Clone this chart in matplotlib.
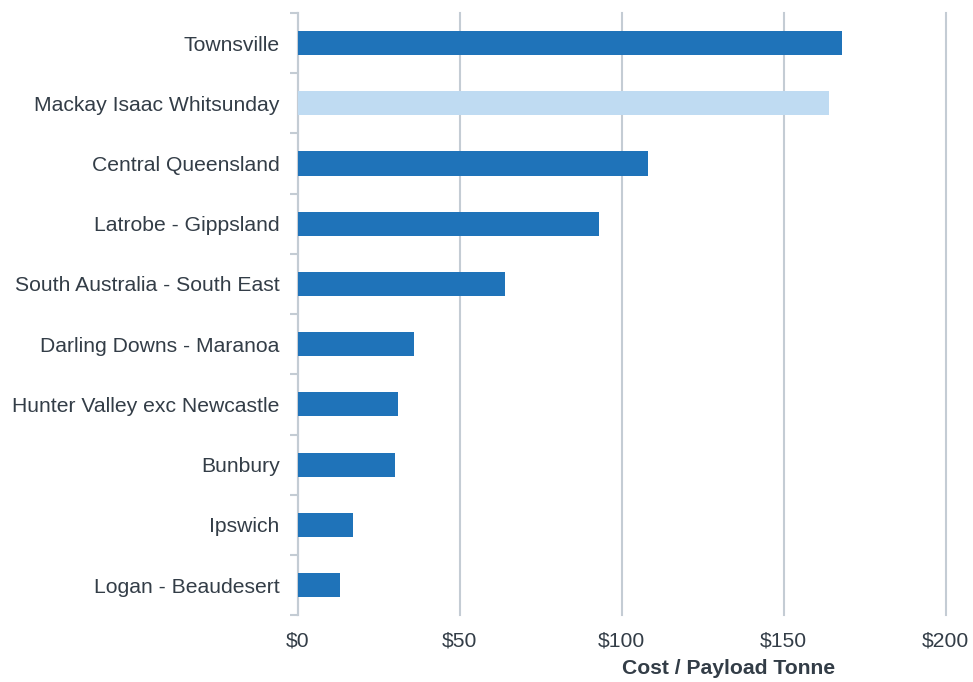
import numpy as np
import matplotlib.pyplot as plt
from matplotlib.ticker import FixedLocator

plt.rcParams['font.family'] = ['Liberation Sans', 'DejaVu Sans']

regions = ["Townsville", "Mackay Isaac Whitsunday", "Central Queensland",
           "Latrobe - Gippsland", "South Australia - South East",
           "Darling Downs - Maranoa", "Hunter Valley exc Newcastle",
           "Bunbury", "Ipswich", "Logan - Beaudesert"]
cost = [168, 164, 108, 93, 64, 36, 31, 30, 17, 13]
highlight = "Mackay Isaac Whitsunday"
xticks = [0, 50, 100, 150, 200]
xtick_labels = ["$0", "$50", "$100", "$150", "$200"]

dark = '#1f73b9'
light = '#bfdbf2'
grid_c = '#c4ccd4'
text_c = '#333d47'
fs = 15.2

fig = plt.figure(figsize=(9.73, 6.82), dpi=100)
ax = fig.add_axes([0.306, 0.098, 0.666, 0.883])

y = np.arange(len(regions))
colors = [light if r == highlight else dark for r in regions]
ax.barh(y, cost, height=0.4, color=colors, zorder=3)

ax.set_ylim(len(regions) - 0.5, -0.5)
ax.set_xlim(0, 200)
ax.set_yticks(y)
ax.set_yticklabels(regions, fontsize=fs, color=text_c)
ax.yaxis.set_minor_locator(FixedLocator(np.arange(-0.5, len(regions), 1)))
ax.tick_params(axis='y', which='major', length=0, pad=13)
ax.tick_params(axis='y', which='minor', length=6, width=1.5, color=grid_c)

ax.set_xticks(xticks)
ax.set_xticklabels(xtick_labels, fontsize=fs, color=text_c)
ax.tick_params(axis='x', length=0, pad=12)
ax.grid(axis='x', color=grid_c, linewidth=1.5, zorder=0)
for gl in ax.get_xgridlines():
    gl.set_clip_on(False)

for s in ['top', 'right', 'bottom']:
    ax.spines[s].set_visible(False)
ax.spines['left'].set_color(grid_c)
ax.spines['left'].set_linewidth(1.5)

ax.set_xlabel("Cost / Payload Tonne", fontsize=fs, fontweight='bold', color=text_c)
ax.xaxis.set_label_coords(0.665, -0.072)

plt.savefig("out.png", dpi=100)
